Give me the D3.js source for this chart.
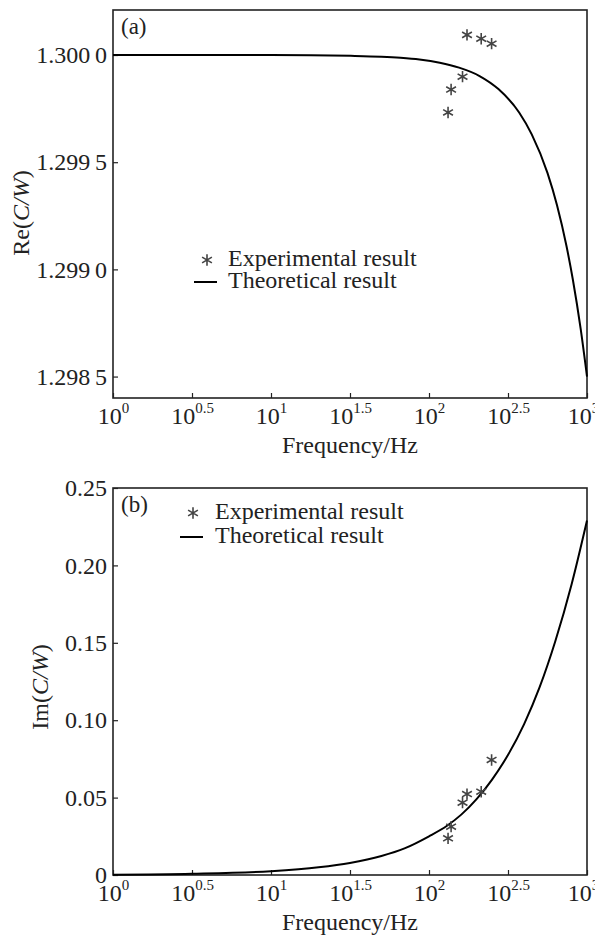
<!DOCTYPE html>
<meta charset="utf-8">
<head>
<style>
  body { margin: 0; background: #fff; }
  text { font-family: "Liberation Serif", "Times New Roman", serif; fill: #222; }
  .frame { fill: none; stroke: #222; stroke-width: 1.6px; }
  .curve { fill: none; stroke: #000; stroke-width: 2px; }
  .star { fill: none; stroke: #444; stroke-width: 1.6px; }
</style>
</head>
<body>
<svg id="chart" width="595" height="937"></svg>
<script src="https://d3js.org/d3.v7.min.js"></script>
<script>

// x tick exponents (10^e), shared by both panels
var xTickExp = ["0", "0.5", "1", "1.5", "2", "2.5", "3"];

// panel (a) ticks
var reTicks = [1.2985, 1.2990, 1.2995, 1.3000];
var reTickLabels = ["1.298\u20095", "1.299\u20090", "1.299\u20095", "1.300\u20090"];

// panel (b) ticks
var imTicks = [0, 0.05, 0.10, 0.15, 0.20, 0.25];
var imTickLabels = ["0", "0.05", "0.10", "0.15", "0.20", "0.25"];

// theoretical curve
var theoryFreqRe = [1, 10, 32, 50, 66, 87, 117, 155, 209, 275, 372, 447, 562, 646, 741, 813, 912, 1000];
var theoryRe = [1.3, 1.3, 1.299996, 1.299992, 1.299987, 1.299979, 1.299964, 1.299941, 1.299902, 1.299841,
                1.299732, 1.29963, 1.29945, 1.299299, 1.29911, 1.298954, 1.298722, 1.2985];

var theoryFreqIm = [1, 3.16, 10, 20, 31.6, 50, 70, 100, 130, 160, 200, 250, 316, 400, 500, 630, 800, 1000];
var theoryIm = [0.0002, 0.0008, 0.0025, 0.005, 0.0078, 0.0123, 0.0172, 0.025, 0.0318, 0.039,
                0.049, 0.0615, 0.0775, 0.0975, 0.121, 0.151, 0.188, 0.229];

// experimental points
var expFreq = [132, 138, 163, 174, 214, 249];
var expRe = [1.299732, 1.299839, 1.299899, 1.300094, 1.300076, 1.300053];
var expIm = [0.0237, 0.0312, 0.0467, 0.0523, 0.0538, 0.0743];

var svg = d3.select("#chart");
var left = 113, right = 587;

var x = d3.scaleLog().domain([1, 1000]).range([left, right]);
var star = d3.symbol().type(d3.symbolAsterisk).size(90);

function drawPanel(p) {
  var y = d3.scaleLinear().domain(p.domain).range([p.bottom, p.top]);
  var g = svg.append("g");

  // x axis, ticks inward
  var xa = g.append("g")
      .attr("transform", "translate(0," + p.bottom + ")")
      .call(d3.axisBottom(x)
        .tickValues(xTickExp.map(function(e) { return Math.pow(10, +e); }))
        .tickSize(-5)
        .tickFormat(""));
  xa.select(".domain").remove();
  xa.selectAll(".tick line").attr("stroke", "#222").attr("stroke-width", 1.2);
  xa.selectAll(".tick").each(function(d, i) {
    var t = d3.select(this).append("text")
        .attr("y", 26)
        .attr("dx", i == xTickExp.length - 1 ? -4 : 0)
        .attr("text-anchor", "middle")
        .style("font-size", "24px");
    t.append("tspan").text("10");
    t.append("tspan").attr("dy", -11).style("font-size", "15px").text(xTickExp[i]);
  });

  // y axis, ticks inward
  var ya = g.append("g")
      .attr("transform", "translate(" + left + ",0)")
      .call(d3.axisLeft(y)
        .tickValues(p.ticks)
        .tickSize(-5)
        .tickPadding(6)
        .tickFormat(function(d, i) { return p.labels[i]; }));
  ya.select(".domain").remove();
  ya.selectAll(".tick line").attr("stroke", "#222").attr("stroke-width", 1.2);
  ya.selectAll(".tick text")
      .attr("fill", "#222")
      .style("font-family", '"Liberation Serif", serif')
      .style("font-size", "24px");

  // frame
  g.append("rect").attr("class", "frame")
      .attr("x", left).attr("y", p.top)
      .attr("width", right - left).attr("height", p.bottom - p.top);

  // theory line
  var line = d3.line()
      .x(function(d) { return x(d[0]); })
      .y(function(d) { return y(d[1]); })
      .curve(d3.curveMonotoneX);
  g.append("path").attr("class", "curve")
      .attr("d", line(d3.zip(p.theoryFreq, p.theory)));

  // experimental points
  g.selectAll(".star")
    .data(d3.zip(expFreq, p.exp))
    .enter().append("path")
      .attr("class", "star")
      .attr("d", star)
      .attr("transform", function(d) { return "translate(" + x(d[0]) + "," + y(d[1]) + ")"; });

  // panel letter
  g.append("text").attr("x", 121).attr("y", p.letterY)
      .style("font-size", "23px").text(p.letter);

  // legend
  g.append("path").attr("class", "star").attr("d", star)
      .attr("transform", "translate(" + p.legX[0] + "," + (p.legY[0] - 6) + ")");
  g.append("text").attr("x", p.legX[1]).attr("y", p.legY[0])
      .style("font-size", "24px").text("Experimental result");
  g.append("line")
      .attr("x1", p.legX[0] - 13).attr("x2", p.legX[0] + 10)
      .attr("y1", p.legY[1] - 6).attr("y2", p.legY[1] - 6)
      .attr("stroke", "#000").attr("stroke-width", 2);
  g.append("text").attr("x", p.legX[1]).attr("y", p.legY[1])
      .style("font-size", "24px").text("Theoretical result");

  // axis titles
  g.append("text")
      .attr("x", (left + right) / 2).attr("y", p.bottom + p.xTitleDy)
      .attr("text-anchor", "middle")
      .style("font-size", "24px")
      .text("Frequency/Hz");

  var yt = g.append("text")
      .attr("transform", "translate(" + p.yTitleX + "," + p.yTitleY + ") rotate(-90)")
      .attr("text-anchor", "middle")
      .style("font-size", "24px");
  yt.append("tspan").text(p.yName + "(");
  yt.append("tspan").style("font-style", "italic").text("C/W");
  yt.append("tspan").text(")");
}

drawPanel({
  top: 10, bottom: 398,
  domain: [1.2984, 1.30021],
  ticks: reTicks, labels: reTickLabels,
  theoryFreq: theoryFreqRe, theory: theoryRe, exp: expRe,
  letter: "(a)", letterY: 34,
  legX: [207, 228], legY: [266, 288],
  xTitleDy: 55,
  yName: "Re", yTitleX: 29, yTitleY: 213
});

drawPanel({
  top: 488, bottom: 875,
  domain: [0, 0.25],
  ticks: imTicks, labels: imTickLabels,
  theoryFreq: theoryFreqIm, theory: theoryIm, exp: expIm,
  letter: "(b)", letterY: 512,
  legX: [193, 215], legY: [519, 543],
  xTitleDy: 55,
  yName: "Im", yTitleX: 48, yTitleY: 687
});

</script>
</body>
